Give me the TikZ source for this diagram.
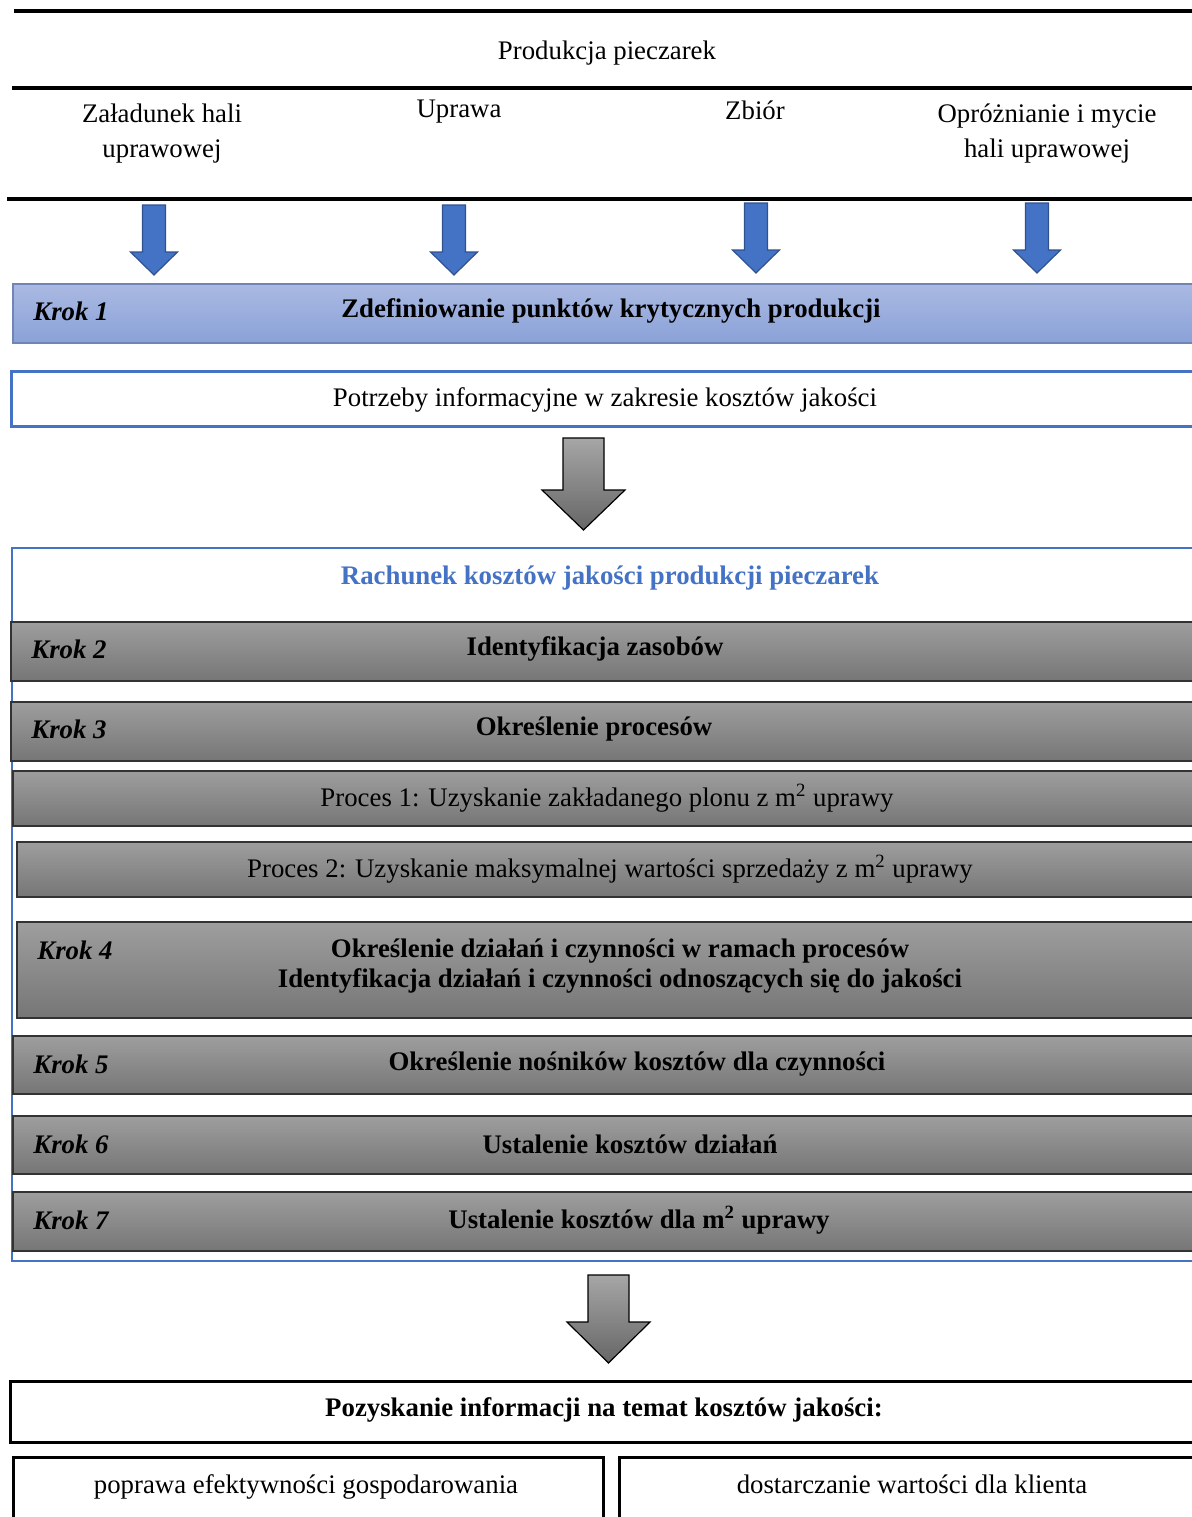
\documentclass[tikz,border=0pt]{standalone}
\usepackage{fontspec}
\setmainfont{Liberation Serif}
\usetikzlibrary{positioning}

\definecolor{wordblue}{HTML}{4472C4}
\definecolor{wordbluedark}{HTML}{2F528F}
\definecolor{krokblueTop}{HTML}{AAB9E2}
\definecolor{krokblueBot}{HTML}{8AA2D8}
\definecolor{krokblueLine}{HTML}{7085B5}
\definecolor{stepgrayTop}{HTML}{9E9E9E}
\definecolor{stepgrayBot}{HTML}{767676}
\definecolor{arrowgrayTop}{HTML}{A6A6A6}
\definecolor{arrowgrayBot}{HTML}{666666}

\tikzset{
  txt/.style={inner sep=0pt, align=center},
  ruleline/.style={line width=1.6pt},
  bluestep/.style={anchor=north west, inner sep=0pt, draw=krokblueLine, line width=0.8pt,
                   top color=krokblueTop, bottom color=krokblueBot},
  graystep/.style={anchor=north west, inner sep=0pt, draw=black!80, line width=0.8pt,
                   top color=stepgrayTop, bottom color=stepgrayBot},
  framebox/.style={anchor=north west, inner sep=0pt, draw, line width=1.5pt},
  kroklabel/.style={anchor=west, inner sep=0pt, font=\fontsize{13.4}{15}\selectfont\bfseries\itshape},
  steptitle/.style={inner sep=0pt, align=center, font=\fontsize{13.4}{15}\selectfont\bfseries},
  pics/bluearrow/.style={code={
    \draw[fill=wordblue, draw=wordbluedark, line width=0.6pt]
      (-11.5,0) -- (11.5,0) -- (11.5,47) -- (23.5,47) -- (0,70) -- (-23.5,47) -- (-11.5,47) -- cycle;
  }},
  pics/grayarrow/.style 2 args={code={
    \draw[top color=arrowgrayTop, bottom color=arrowgrayBot, draw=black, line width=0.6pt]
      (-20.5,0) -- (20.5,0) -- (20.5,#1) -- (41.5,#1) -- (0,#2) -- (-41.5,#1) -- (-20.5,#1) -- cycle;
  }}
}

\begin{document}
\begin{tikzpicture}[x=0.5pt, y=-0.5pt, font=\fontsize{13.4}{17.5}\selectfont]
  \useasboundingbox (0,0) rectangle (1192,1517);

  % naglowek: produkcja i etapy
  \draw[ruleline] (14,11) -- (1200,11);
  \draw[ruleline] (12,88) -- (1200,88);
  \draw[ruleline] (7,199) -- (1200,199);
  \node[txt] (prod) at (607,53) {Produkcja pieczarek};
  \node[txt, anchor=north] (etap1) at (162,103) {Załadunek hali\\uprawowej};
  \node[txt, anchor=north] (etap2) at (459,100) {Uprawa};
  \node[txt, anchor=north] (etap3) at (755,100) {Zbiór};
  \node[txt, anchor=north] (etap4) at (1047,103) {Opróżnianie i mycie\\hali uprawowej};

  \pic at (154,205) {bluearrow};
  \pic at (454,205) {bluearrow};
  \pic at (756,203) {bluearrow};
  \pic at (1037,203) {bluearrow};

  % Krok 1
  \node[bluestep, minimum width=601.5pt, minimum height=29.5pt] (k1) at (12,283) {};
  \node[kroklabel] (k1lab) at (33,311) {Krok 1};
  \node[steptitle] (k1tit) at (611,311) {Zdefiniowanie punktów krytycznych produkcji};

  \node[framebox, draw=wordblue, minimum width=602.5pt, minimum height=27.5pt] (potrzeby) at (10,370) {};
  \node[txt] (potrzebytxt) at (605,400) {Potrzeby informacyjne w zakresie kosztów jakości};

  \pic at (583.5,438) {grayarrow={52}{92}};

  % rachunek kosztow jakosci
  \node[anchor=north west, inner sep=0pt, draw=wordblue, line width=1pt,
        minimum width=602pt, minimum height=356.5pt] (rachunek) at (11,547) {};
  \node[steptitle, text=wordblue] (rachtit) at (610,578) {Rachunek kosztów jakości produkcji pieczarek};

  \node[graystep, minimum width=602.5pt, minimum height=29.5pt] (k2) at (10,621) {};
  \node[kroklabel] (k2lab) at (31,649) {Krok 2};
  \node[steptitle] (k2tit) at (595,649) {Identyfikacja zasobów};

  \node[graystep, minimum width=602.5pt, minimum height=29.5pt] (k3) at (10,701) {};
  \node[kroklabel] (k3lab) at (31,729) {Krok 3};
  \node[steptitle] (k3tit) at (594,729) {Określenie procesów};

  \node[graystep, minimum width=601.5pt, minimum height=27.5pt] (p1) at (12,770) {};
  \node[txt] (p1txt) at (607,798) {Proces 1: Uzyskanie zakładanego plonu z m\textsuperscript{2} uprawy};

  \node[graystep, minimum width=599.5pt, minimum height=27.5pt] (p2) at (16,841) {};
  \node[txt] (p2txt) at (610,869) {Proces 2: Uzyskanie maksymalnej wartości sprzedaży z m\textsuperscript{2} uprawy};

  \node[graystep, minimum width=599.5pt, minimum height=48pt] (k4) at (16,921) {};
  \node[kroklabel] (k4lab) at (37,950) {Krok 4};
  \node[steptitle, anchor=north] (k4tit) at (620,938) {Określenie działań i czynności w ramach procesów\\
    Identyfikacja działań i czynności odnoszących się do jakości};

  \node[graystep, minimum width=601.5pt, minimum height=29pt] (k5) at (12,1035) {};
  \node[kroklabel] (k5lab) at (33,1064) {Krok 5};
  \node[steptitle] (k5tit) at (637,1064) {Określenie nośników kosztów dla czynności};

  \node[graystep, minimum width=601.5pt, minimum height=29pt] (k6) at (12,1115) {};
  \node[kroklabel] (k6lab) at (33,1144) {Krok 6};
  \node[steptitle] (k6tit) at (630,1144) {Ustalenie kosztów działań};

  \node[graystep, minimum width=601.5pt, minimum height=29.5pt] (k7) at (12,1191) {};
  \node[kroklabel] (k7lab) at (33,1220) {Krok 7};
  \node[steptitle] (k7tit) at (639,1220) {Ustalenie kosztów dla m\textsuperscript{2} uprawy};

  \pic at (608.5,1275) {grayarrow={47}{88}};

  % wynik
  \node[framebox, minimum width=603pt, minimum height=30.5pt] (pozysk) at (9,1380) {};
  \node[steptitle] (pozysktxt) at (604,1410) {Pozyskanie informacji na temat kosztów jakości:};

  \node[framebox, line width=1.7pt, minimum width=295pt, minimum height=45pt] (efekt) at (12,1456) {};
  \node[txt, anchor=base] (efekttxt) at (306,1493) {poprawa efektywności gospodarowania};
  \node[framebox, line width=1.7pt, minimum width=300pt, minimum height=45pt] (klient) at (618,1456) {};
  \node[txt, anchor=base] (klienttxt) at (912,1493) {dostarczanie wartości dla klienta};
\end{tikzpicture}
\end{document}
